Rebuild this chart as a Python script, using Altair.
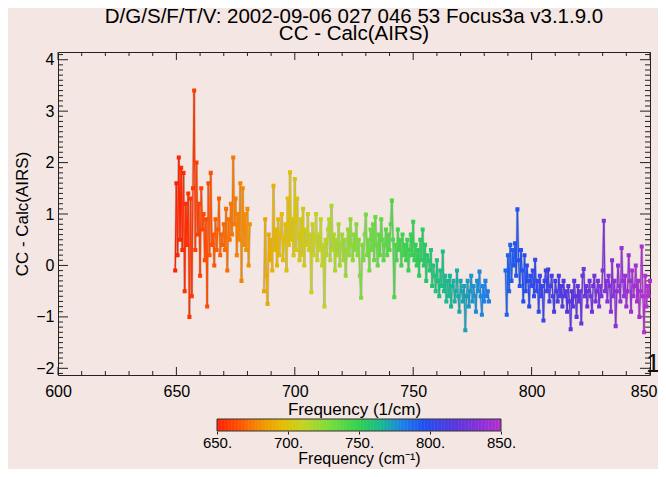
import altair as alt
import pandas as pd
import numpy as np

TITLE_LINES = ["D/G/S/F/T/V: 2002-09-06 027 046 53 Focus3a v3.1.9.0", "CC - Calc(AIRS)"]
X_TITLE = "Frequency (1/cm)"
Y_TITLE = "CC - Calc(AIRS)"
CBAR_TITLE = "Frequency (cm⁻¹)"

# channel segments (start / end frequency, cm-1)
SEG_START = [649.5, 687.0, 789.0]
SEG_END = [681.0, 782.0, 850.0]

SEG1 = [-0.1, 1.6, 0.2, 2.1, 0.5, 1.9, 0.3, 1.8, -0.5, 1.2,
        0.4, 1.4, -1.0, 1.3, -0.6, 1.5, 3.4, 0.3, 2.0, 0.6,
        1.2, -0.2, 1.5, 0.7, 1.0, 0.1, 0.9, -0.8, 1.6, 0.2,
        1.8, 0.4, 0.6, 0.0, 0.9, 0.3, 0.7, 1.3, 0.2, 0.6,
        0.4, 0.8, 0.3, 1.1, -0.1, 0.9, 0.5, 1.2, 0.6, 2.1,
        0.8, 1.3, 0.2, 1.0, 0.5, 1.6, -0.3, 1.5, 0.4, 1.0,
        0.3, 1.1, 0.0, 0.8]

SEG2 = [-0.5, 0.9, -0.2, -0.75, 0.6, 0.1, 0.5, -0.1, 1.55, 0.3, 0.7, 0.0, 0.9, 0.2, 0.6, 1.0, 0.1, 0.5, 0.8, -0.1, 1.3, 0.4, 1.81, 0.5, 0.9, 0.2,
        1.68, 0.3, 1.3, 0.6, 0.1, 0.9, 0.2, 1.1, 0.0, 0.7, 0.4, 1.0, 0.3, 0.6, -0.52, 0.8, 0.2, 0.5, 1.0, 0.1, 0.6, 0.3, 0.9, 0.0, 0.4, -0.8,
        0.5, 0.2, 0.7, 0.9, 0.1, 1.16, 0.3, 0.6, -0.1, 0.5, 0.2, 0.8, 0.0, 0.4, 0.6, 0.1, 0.5, -0.2, 0.3, 0.7, 0.2, 0.9, 0.4, 0.1, 0.6, 0.3,
        0.8, 0.2, 0.5, -0.2, -0.63, 0.4, 0.1, 0.6, 0.99, 0.2, 0.5, -0.1, 0.7, 0.3, 0.8, 0.1, 0.94, 0.4, 0.0, 0.6, 0.2, 0.9, 0.5, 0.1, 0.4, 0.7,
        0.2, 0.6, 0.3, 0.8, 1.26, 0.5, -0.62, 0.4, 0.1, 0.7, 0.3, 0.5, 0.0, 0.6, 0.2, 0.4, 0.1, 0.5, -0.1, 0.3, 0.6, 0.2, 0.85, 0.1, 0.4, 0.0,
        0.3, -0.2, 0.5, 0.1, 0.7, 0.0, 0.4, -0.3, 0.2, 0.1, -0.1, 0.3, -0.4, 0.0, -0.2, -0.5, 0.1, -0.3, -0.6, -0.1, -0.4, 0.27, -0.5, -0.2, -0.7, -0.3,
        -0.6, -0.2, -0.8, -0.4, -0.3, -0.7, -0.5, -0.1, -0.6, -0.9, -0.3, -0.5, -0.7, -0.4, -1.26, -0.6, -0.3, -0.8, -0.5, -0.2, -0.7, -0.4, -0.6, -0.9, -0.3, -0.5,
        -0.12, -0.6, -0.96, -0.4, -0.7, -0.3, -0.6, -0.5, -0.7]

SEG3 = [-0.1, -0.96, 0.2, -0.5, 0.4, -0.3, 0.3, 0.0, 0.43, -0.2, 1.09, 0.1, -0.4, 0.3, -0.1, -0.7, 0.2, -0.5, 0.0, -0.3, -0.8, -0.2, -0.4,
        -0.1, -0.6, 0.11, -0.5, -0.3, -0.9, -0.2, -0.6, -0.4, -1.07, -0.3, -0.1, -0.5, -0.08, -0.7, -0.4, -0.2, -0.6, -0.9, -0.3, -0.5, -0.7, -0.2, -0.6,
        -0.4, -0.8, -0.3, -0.6, -0.5, -0.9, -0.4, -0.7, -1.24, -0.5, -0.8, -0.3, -0.6, -1.0, -0.4, -0.7, -0.5, -1.13, -0.2, -0.07, -0.6, -0.4, -0.8, -0.5,
        -0.3, -0.6, -0.9, -0.4, -0.2, -0.7, -0.5, -0.3, -0.8, -0.4, -0.6, -0.1, 0.87, -0.5, -0.3, -0.7, -0.2, -0.4, -0.9, 0.1, -0.6, -0.3, -1.18, -0.5,
        0.0, -0.4, -0.7, 0.34, -0.3, -0.6, -0.2, -0.8, -0.5, 0.2, -0.3, -0.9, -0.1, -0.6, -0.4, 0.0, -0.7, -0.3, -1.0, -0.5, 0.37, -0.6, -1.3, -0.2, -0.8, -0.4, -0.6, -0.3]

X_TICKS = [600, 650, 700, 750, 800, 850]
X_MINOR = [610, 620, 630, 640, 660, 670, 680, 690, 710, 720, 730, 740, 760, 770, 780, 790, 810, 820, 830, 840]
Y_TICKS = [-2, -1, 0, 1, 2, 3, 4]
CBAR_TICKS = [650, 700, 750, 800, 850]
CBAR_RANGE = [650, 850]

COLOR_STOPS = [650, 665, 680, 695, 710, 730, 750, 765, 780, 795, 815, 835, 850]
COLOR_RANGE = ["#ff2000", "#ff5200", "#f29000", "#e4bc00", "#c4d420", "#74dc3c", "#30d050",
               "#18b890", "#1c80e8", "#2050f0", "#5436e0", "#8a30d8", "#b430cc"]

XD = [600, 850]
YD = [-2.13, 4.15]
W, H = 592, 323
BG = "#f3e6e3"
FONT = "Liberation Sans"

# ---- build tables ----
pts_rows, seg_rows = [], []
for s, e, vals in zip(SEG_START, SEG_END, [SEG1, SEG2, SEG3]):
    fr = np.linspace(s, e, len(vals))
    for f, v in zip(fr, vals):
        pts_rows.append({"x": f, "y": v, "c": f})
    for i in range(len(vals) - 1):
        seg_rows.append({"x": fr[i], "y": vals[i], "x2": fr[i + 1], "y2": vals[i + 1],
                         "c": (fr[i] + fr[i + 1]) / 2})
pts = pd.DataFrame(pts_rows)
segs = pd.DataFrame(seg_rows)

ypx = H / (YD[1] - YD[0])
xpx = W / (XD[1] - XD[0])
tick_rows = []
for xv in X_TICKS:
    L = 8 / ypx
    tick_rows += [{"x": xv, "x2": xv, "y": YD[0], "y2": YD[0] + L},
                  {"x": xv, "x2": xv, "y": YD[1], "y2": YD[1] - L}]
for xv in X_MINOR:
    L = 4 / ypx
    tick_rows += [{"x": xv, "x2": xv, "y": YD[0], "y2": YD[0] + L},
                  {"x": xv, "x2": xv, "y": YD[1], "y2": YD[1] - L}]
for k in range(-21, 42):
    yv = k / 10
    if yv < YD[0] or yv > YD[1]:
        continue
    L = (10 if k % 10 == 0 else 5) / xpx
    tick_rows += [{"x": XD[0], "x2": XD[0] + L, "y": yv, "y2": yv},
                  {"x": XD[1], "x2": XD[1] - L, "y": yv, "y2": yv}]
ticks = pd.DataFrame(tick_rows)

# colour bar cells
cb_grid = np.linspace(CBAR_RANGE[0], CBAR_RANGE[1], 201)
cb = pd.DataFrame({"f": cb_grid[:-1], "f2": np.minimum(cb_grid[:-1] + 1.3, CBAR_RANGE[1])})
cb_box = pd.DataFrame({"f": [CBAR_RANGE[0]], "f2": [CBAR_RANGE[1]]})

# ---- scales / axes ----
xs = alt.Scale(domain=XD, nice=False, zero=False)
ys = alt.Scale(domain=YD, nice=False, zero=False)
last_test = "datum.value == 850"
xax = alt.Axis(values=X_TICKS, title=X_TITLE, grid=False, ticks=False, domain=False,
               labelPadding=8, titlePadding=2, labelFlush=False,
               labelAlign={"condition": {"test": last_test, "value": "right"}, "value": "center"},
               labelOffset={"condition": {"test": last_test, "value": 7}, "value": 0})
yax = alt.Axis(values=Y_TICKS, title=Y_TITLE, grid=False, ticks=False, domain=False,
               labelPadding=4, titlePadding=4)
X = alt.X("x:Q", scale=xs, axis=xax)
Y = alt.Y("y:Q", scale=ys, axis=yax)

cscale = alt.Scale(domain=COLOR_STOPS, range=COLOR_RANGE, interpolate="rgb")
S = alt.Stroke("c:Q", scale=cscale, legend=None)

# colour-bar scale: 650-850 over pixels 159..443 of the plot group
cbx = alt.Scale(domain=CBAR_RANGE, range=[159, 443], nice=False, zero=False)
cbax = alt.Axis(orient="bottom", offset=56, values=CBAR_TICKS, labelExpr="datum.label + '.'",
                title=CBAR_TITLE, domain=False, ticks=True, tickSize=3, tickColor="#222",
                grid=False, labelFlush=False, labelPadding=1, titlePadding=0,
                labelFontSize=15, titleFontSize=16)
CBX = alt.X("f:Q", scale=cbx, axis=cbax)

# ---- layers ----
tick_layer = alt.Chart(ticks).mark_rule(color="#222", strokeWidth=1).encode(
    x=X, y=Y, x2="x2:Q", y2="y2:Q")

halo = alt.Chart(segs).mark_rule(color="#9a9a9a", strokeWidth=2.6, opacity=0.45).encode(
    x=X, y=Y, x2="x2:Q", y2="y2:Q")

lines = alt.Chart(segs).mark_rule(strokeWidth=1.3).encode(
    x=X, y=Y, x2="x2:Q", y2="y2:Q", stroke=S)

points = alt.Chart(pts).mark_square(size=5, filled=False, opacity=1, strokeWidth=1.8).encode(
    x=X, y=Y, stroke=S)

edge = alt.Chart(pd.DataFrame({"t": ["1"]})).mark_text(
    fontSize=26, font=FONT, align="left", baseline="alphabetic", color="#111").encode(
    x=alt.value(588), y=alt.value(320), text="t:N")

bar = alt.Chart(cb).mark_rect().encode(
    x=CBX, x2="f2:Q", y=alt.value(367), y2=alt.value(379),
    fill=alt.Fill("f:Q", scale=cscale, legend=None))

bar_box = alt.Chart(cb_box).mark_rect(filled=False, color="#333", strokeWidth=1).encode(
    x=CBX, x2="f2:Q", y=alt.value(367), y2=alt.value(379))

main = alt.layer(tick_layer, halo, lines, points, edge)
cbar = alt.layer(bar, bar_box)

chart = alt.layer(main, cbar).resolve_scale(x="independent").properties(
    width=W, height=H,
    title=alt.Title(TITLE_LINES, fontSize=20.5, font=FONT, fontWeight="normal", color="black",
                    anchor="middle", lineHeight=17.5, offset=7),
    autosize=alt.AutoSizeParams(type="none"),
    padding={"left": 50, "top": 44, "right": 8, "bottom": 94},
    background=BG,
).configure_view(stroke="#222", strokeWidth=1).configure_axis(
    labelFont=FONT, labelFontSize=16, labelColor="black",
    titleFont=FONT, titleFontSize=17, titleFontWeight="normal", titleColor="black")

chart.save("out.html", embed_options={"renderer": "svg", "actions": False})
